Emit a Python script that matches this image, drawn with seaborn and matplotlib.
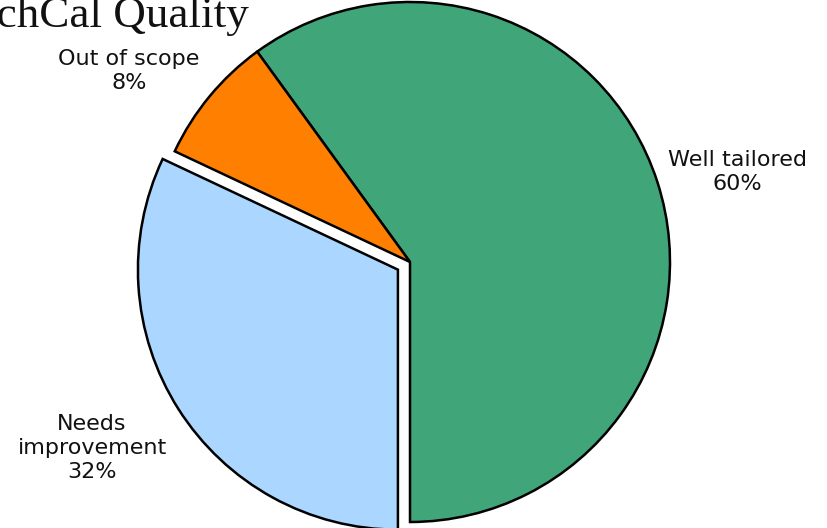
import matplotlib
matplotlib.use("Agg")
import matplotlib.pyplot as plt
import seaborn as sns

# Данные
categories = ["Well tailored", "Out of scope", "Needs improvement"]
label_names = ["Well tailored", "Out of scope", "Needs\nimprovement"]
shares = [60, 8, 32]
colors = ["#40a67a", "#ff8000", "#aad6ff"]
explode = [0, 0, 0.055]

# положения подписей (в радиусах пирога от центра)
label_pos = [(1.258, 0.346), (-1.081, 0.735), (-1.223, -0.715)]


def main():
    sns.set_theme(style="white")
    plt.rcParams["font.family"] = ["DejaVu Sans"]

    fig = plt.figure(figsize=(8.28, 5.28), dpi=100)
    # square axes, pie centre ~ (410, 262) px, radius 260 px
    ax = fig.add_axes([150 / 828, 6 / 528, 520 / 828, 520 / 528])

    labels = [f"{n}\n{v}%" for n, v in zip(label_names, shares)]
    wedges, texts = ax.pie(
        shares,
        labels=labels,
        colors=colors,
        explode=explode,
        startangle=-90,
        counterclock=True,
        wedgeprops=dict(edgecolor="black", linewidth=1.8, clip_on=False),
        textprops=dict(ha="center", va="center", fontsize=16,
                       linespacing=1.25, color="#111111"),
    )
    for t, pos in zip(texts, label_pos):
        t.set_position(pos)

    ax.set_xlim(-1, 1)
    ax.set_ylim(-1, 1)
    ax.set_aspect("equal")
    ax.axis("off")

    # заголовок обрезан слева, как на оригинале
    fig.text(249 / 828, 1 - 27 / 528, "TechCal Quality", ha="right",
             va="baseline", family="Liberation Serif", fontsize=32.5,
             color="#111111")

    fig.savefig("out.png", dpi=100)
    plt.close(fig)


if __name__ == "__main__":
    main()
